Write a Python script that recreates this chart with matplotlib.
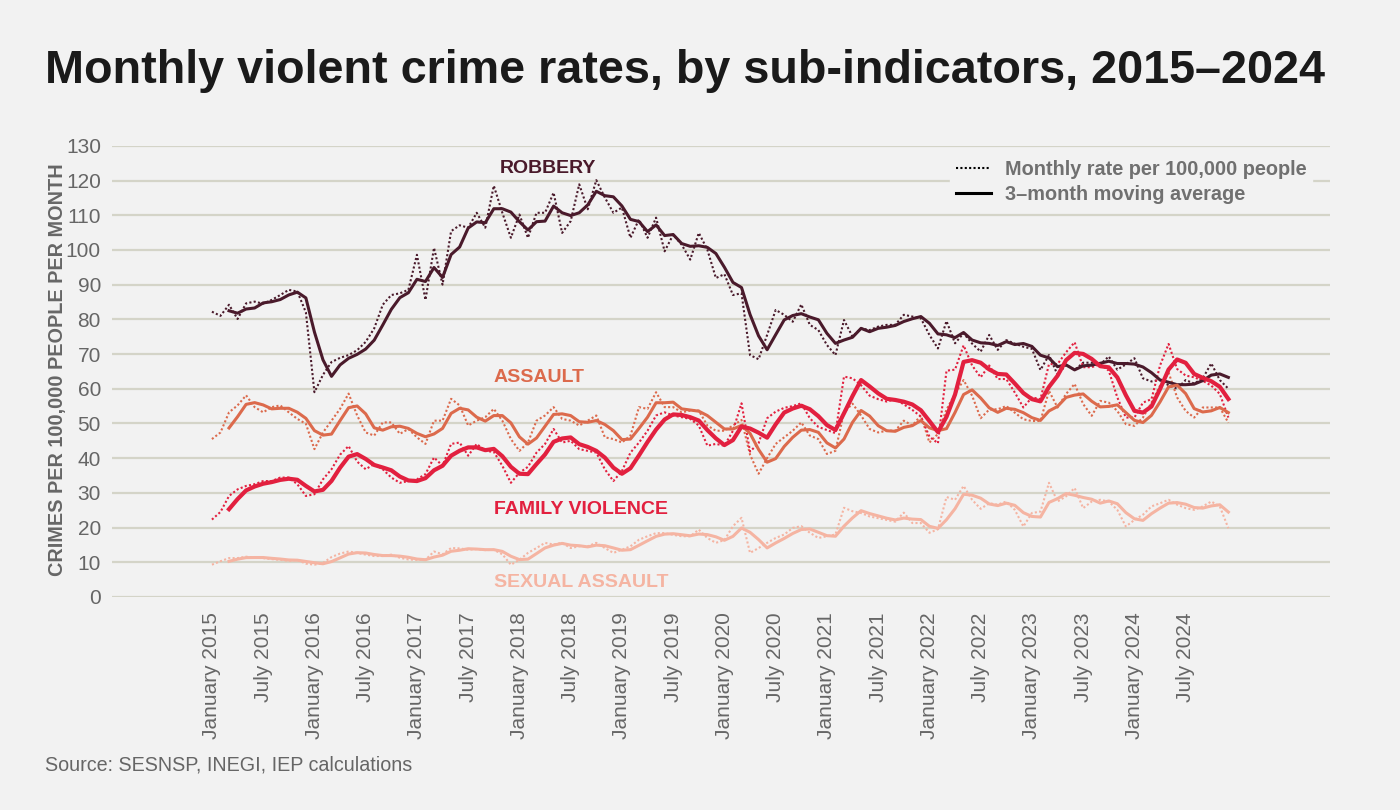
import numpy as np
import pandas as pd
import matplotlib
matplotlib.use("Agg")
import matplotlib.pyplot as plt
from matplotlib.lines import Line2D

plt.rcParams['font.family'] = ['Liberation Sans', 'DejaVu Sans']

# Monthly rates per 100,000 people, January 2015 - December 2024
robbery = [
    82.2, 81.0, 84.2, 80.1, 84.6, 85.1, 84.5, 85.6, 87.0, 88.5, 88.0, 82.0,
    59.0, 64.0, 67.7, 68.9, 69.7, 71.1, 73.5, 77.4, 84.2, 87.0, 87.5, 88.5,
    98.6, 85.6, 100.6, 90.0, 105.4, 107.1, 106.4, 110.7, 106.4, 118.5, 110.7, 103.5,
    110.2, 103.5, 110.7, 110.7, 116.5, 104.9, 108.3, 118.9, 111.7, 120.1, 115.1, 110.7,
    112.2, 103.5, 108.8, 103.5, 109.3, 99.6, 104.4, 101.5, 97.2, 104.9, 100.1, 91.9,
    93.0, 87.0, 87.5, 69.7, 68.5, 75.5, 82.7, 81.3, 79.3, 84.3, 78.4, 76.9,
    72.6, 69.7, 79.8, 75.0, 77.4, 76.9, 77.9, 78.4, 78.4, 81.3, 80.8, 80.3,
    75.5, 71.6, 79.5, 73.1, 76.0, 73.0, 70.7, 75.5, 71.2, 74.0, 73.0, 72.1,
    71.5, 65.4, 69.7, 64.0, 66.9, 65.4, 67.5, 67.5, 67.0, 69.3, 65.5, 67.0,
    68.8, 63.0, 62.1, 62.5, 61.0, 60.0, 62.5, 61.5, 63.0, 67.3, 62.5, 60.0,
]
assault = [
    45.5, 47.4, 53.2, 55.2, 58.1, 54.7, 53.2, 54.7, 55.2, 53.2, 51.3, 49.9,
    42.6, 47.4, 50.8, 54.2, 58.6, 52.3, 47.4, 46.5, 50.3, 50.3, 47.0, 48.4,
    46.0, 44.1, 50.8, 50.8, 57.1, 55.2, 49.4, 50.8, 51.8, 54.2, 50.8, 45.5,
    42.1, 44.5, 50.8, 52.3, 54.7, 51.3, 50.8, 49.4, 50.8, 52.3, 46.0, 45.5,
    44.5, 46.5, 54.7, 54.2, 59.0, 54.7, 54.7, 53.2, 53.7, 53.7, 49.4, 47.9,
    47.9, 49.4, 51.0, 41.0, 35.5, 40.0, 44.1, 46.0, 47.9, 50.3, 46.5, 45.5,
    41.2, 42.1, 53.2, 55.7, 52.3, 48.4, 47.4, 47.9, 47.9, 50.8, 49.4, 52.3,
    44.5, 47.0, 54.0, 58.5, 62.5, 58.0, 51.5, 54.0, 54.1, 55.0, 53.1, 51.2,
    50.7, 50.7, 59.4, 54.6, 58.5, 61.4, 55.6, 52.2, 56.5, 56.0, 53.6, 49.8,
    49.3, 51.7, 56.0, 60.9, 64.7, 57.5, 53.6, 51.7, 54.6, 54.6, 54.6, 50.2,
]
family_violence = [
    22.3, 24.5, 29.1, 31.0, 32.0, 32.5, 33.4, 33.4, 34.4, 34.4, 32.5, 29.1,
    29.6, 33.9, 36.8, 41.0, 43.5, 39.0, 36.8, 38.3, 36.8, 34.4, 32.9, 33.4,
    33.9, 35.4, 40.2, 37.8, 44.1, 44.5, 40.7, 44.1, 42.1, 41.8, 37.8, 32.9,
    35.8, 37.5, 41.6, 44.1, 48.4, 44.5, 45.0, 42.6, 42.1, 41.6, 36.8, 33.4,
    36.3, 41.6, 44.5, 47.9, 52.3, 53.2, 52.3, 51.8, 51.3, 49.4, 43.6, 44.1,
    43.6, 47.9, 55.8, 41.9, 44.3, 51.5, 53.4, 54.5, 55.0, 55.8, 51.5, 49.0,
    48.1, 47.2, 63.5, 63.0, 61.0, 58.0, 57.0, 56.3, 57.0, 55.5, 53.9, 52.0,
    46.2, 44.3, 65.2, 65.5, 72.5, 66.7, 63.3, 66.7, 62.8, 62.8, 58.9, 54.6,
    57.5, 57.0, 67.1, 67.1, 70.5, 73.4, 66.2, 66.2, 67.1, 65.2, 57.5, 51.7,
    51.7, 56.0, 57.0, 66.7, 72.9, 65.7, 63.8, 63.3, 62.3, 60.9, 58.5, 51.7,
]
sexual_assault = [
    9.3, 10.3, 11.2, 11.2, 11.6, 11.3, 11.2, 10.9, 10.7, 10.4, 10.7, 9.6,
    9.3, 9.8, 11.5, 12.5, 13.1, 12.7, 12.2, 11.8, 11.8, 12.2, 11.3, 10.8,
    10.7, 10.7, 13.1, 12.3, 14.1, 14.0, 13.6, 13.8, 13.5, 13.6, 12.3, 9.3,
    10.7, 12.7, 14.1, 15.6, 15.1, 15.6, 14.1, 14.6, 14.6, 15.6, 14.1, 12.7,
    13.6, 14.6, 16.5, 17.5, 18.4, 18.4, 17.9, 17.5, 17.5, 19.4, 17.0, 15.6,
    16.4, 20.4, 22.8, 12.7, 14.1, 15.6, 17.0, 18.0, 19.9, 20.4, 18.5, 17.0,
    17.5, 18.0, 25.7, 24.7, 24.2, 23.2, 22.7, 22.2, 21.7, 24.3, 21.3, 21.3,
    18.5, 19.5, 28.8, 28.0, 32.0, 28.0, 25.4, 27.0, 26.6, 27.5, 25.1, 20.3,
    24.2, 24.6, 32.9, 27.5, 29.0, 31.4, 25.6, 27.5, 28.0, 27.5, 25.1, 20.3,
    22.2, 23.7, 26.1, 27.0, 28.0, 26.6, 25.6, 25.1, 26.1, 27.5, 26.1, 19.8,
]

years = list(range(2015, 2025))
tick_labels = []
for y in years:
    tick_labels += [f"January {y}", f"July {y}"]

months = pd.date_range("2015-01-01", "2024-12-01", freq="MS")
df = pd.DataFrame({
    "robbery": robbery,
    "assault": assault,
    "family": family_violence,
    "sexual": sexual_assault,
}, index=months)
ma = df.rolling(3).mean()
x = np.arange(len(df))

series = [
    ("robbery", "ROBBERY", "#4a1a2b", 2.2, 39.3, 123.4),
    ("assault", "ASSAULT", "#dc6a4c", 2.2, 38.3, 63.2),
    ("family", "FAMILY VIOLENCE", "#e2203f", 3.0, 43.2, 25.1),
    ("sexual", "SEXUAL ASSAULT", "#f5b4a2", 2.2, 43.2, 4.1),
]

bg = "#f2f2f2"
fig = plt.figure(figsize=(14, 8.1), dpi=100, facecolor=bg)
ax = fig.add_axes([0.08, 0.263, 0.87, 0.557], facecolor=bg)

for key, label, color, lw, lx, ly in series:
    ax.plot(x, df[key], color=color, lw=1.5, ls=(0, (1, 1.1)), zorder=3)
    ax.plot(x, ma[key], color=color, lw=lw, zorder=4, solid_joinstyle="round")
    ax.text(lx, ly, label, color=color, fontsize=14, fontweight="bold",
            ha="center", va="center", zorder=5)

ax.set_xlim(-11.7, 130.9)
ax.set_ylim(0, 130)
ax.set_yticks(range(0, 131, 10))
ax.set_xticks(range(0, 120, 6))
ax.set_xticklabels(tick_labels, rotation=90, va="top", ha="center")
ax.tick_params(axis="both", length=0, labelsize=15, labelcolor="#666666")
ax.tick_params(axis="x", pad=11)
ax.tick_params(axis="y", pad=8)
ax.grid(axis="y", color="#d4d4c8", lw=1.6, zorder=0)
ax.set_axisbelow(True)
for s in ax.spines.values():
    s.set_visible(False)

ax.set_ylabel("CRIMES PER 100,000 PEOPLE PER MONTH", fontsize=14.3,
              fontweight="bold", color="#666666", va="center")
ax.yaxis.set_label_coords(-0.045, 0.503)

handles = [Line2D([], [], color="black", lw=1.5, ls=(0, (1, 1.1))),
           Line2D([], [], color="black", lw=2.2)]
leg = ax.legend(handles, ["Monthly rate per 100,000 people", "3\u2013month moving average"],
                loc="upper left", bbox_to_anchor=(950 / 1400, 1 - 154 / 810),
                bbox_transform=fig.transFigure, frameon=True, fontsize=14.3,
                handlelength=1.75, handletextpad=0.7, labelspacing=0.3,
                borderpad=0.3, borderaxespad=0)
leg.get_frame().set_facecolor(bg)
leg.get_frame().set_edgecolor(bg)
leg.get_frame().set_alpha(1)
for t in leg.get_texts():
    t.set_color("#707070")
    t.set_fontweight("bold")

fig.text(45 / 1400, 1 - 71 / 810, "Monthly violent crime rates, by sub-indicators, 2015\u20132024",
         fontsize=33.7, fontweight="bold", color="#1a1a1a", ha="left", va="center")
fig.text(45 / 1400, 1 - 765 / 810, "Source: SESNSP, INEGI, IEP calculations",
         fontsize=14.2, color="#666666", ha="left", va="center")

fig.savefig("out.png", dpi=100, facecolor=bg)
